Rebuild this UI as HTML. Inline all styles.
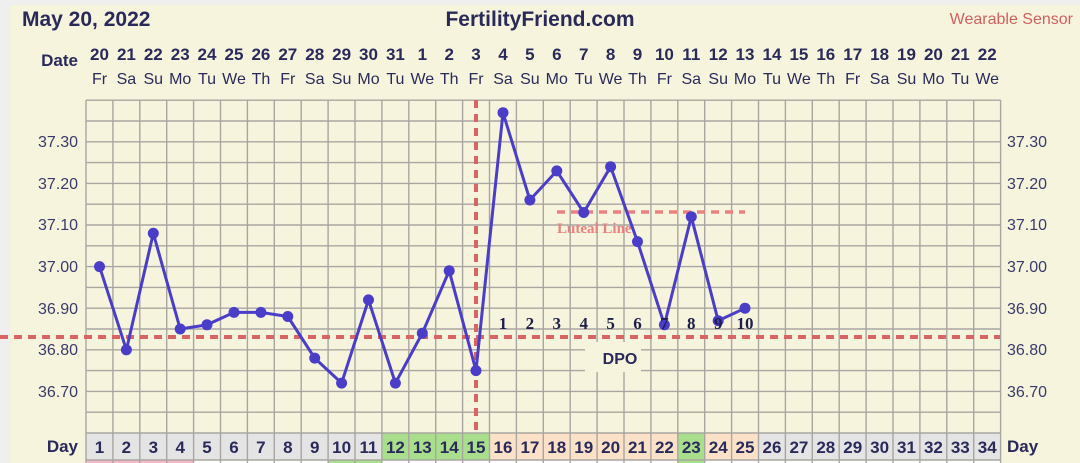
<!DOCTYPE html>
<html><head><meta charset="utf-8"><style>
body{margin:0;background:#efefef;}
svg{display:block;font-family:"Liberation Sans",sans-serif;}
</style></head><body>
<svg width="1080" height="463" viewBox="0 0 1080 463">
<rect x="10" y="5" width="1070" height="458" fill="#f7f4de"/>
<text x="22" y="26" font-size="21" font-weight="bold" fill="#2a2a5a">May 20, 2022</text>
<text x="540" y="26" font-size="21" font-weight="bold" fill="#2a2a5a" text-anchor="middle">FertilityFriend.com</text>
<text x="1073" y="24" font-size="16" fill="#d06060" text-anchor="end">Wearable Sensor</text>
<text x="78" y="66" font-size="17" font-weight="bold" fill="#2a2a5a" text-anchor="end">Date</text>
<g font-size="17" font-weight="bold" fill="#2a2a5a" text-anchor="middle">
<text x="99.5" y="60">20</text><text x="126.4" y="60">21</text><text x="153.3" y="60">22</text><text x="180.2" y="60">23</text><text x="207" y="60">24</text><text x="234" y="60">25</text><text x="260.9" y="60">26</text><text x="287.8" y="60">27</text><text x="314.7" y="60">28</text><text x="341.6" y="60">29</text><text x="368.5" y="60">30</text><text x="395.4" y="60">31</text><text x="422.3" y="60">1</text><text x="449.2" y="60">2</text><text x="476" y="60">3</text><text x="503" y="60">4</text><text x="529.9" y="60">5</text><text x="556.8" y="60">6</text><text x="583.7" y="60">7</text><text x="610.6" y="60">8</text><text x="637.5" y="60">9</text><text x="664.4" y="60">10</text><text x="691.3" y="60">11</text><text x="718.2" y="60">12</text><text x="745" y="60">13</text><text x="772" y="60">14</text><text x="798.9" y="60">15</text><text x="825.8" y="60">16</text><text x="852.7" y="60">17</text><text x="879.6" y="60">18</text><text x="906.5" y="60">19</text><text x="933.4" y="60">20</text><text x="960.3" y="60">21</text><text x="987.2" y="60">22</text>
</g>
<g font-size="16" fill="#2a2a5a" text-anchor="middle">
<text x="99.5" y="84">Fr</text><text x="126.4" y="84">Sa</text><text x="153.3" y="84">Su</text><text x="180.2" y="84">Mo</text><text x="207" y="84">Tu</text><text x="234" y="84">We</text><text x="260.9" y="84">Th</text><text x="287.8" y="84">Fr</text><text x="314.7" y="84">Sa</text><text x="341.6" y="84">Su</text><text x="368.5" y="84">Mo</text><text x="395.4" y="84">Tu</text><text x="422.3" y="84">We</text><text x="449.2" y="84">Th</text><text x="476" y="84">Fr</text><text x="503" y="84">Sa</text><text x="529.9" y="84">Su</text><text x="556.8" y="84">Mo</text><text x="583.7" y="84">Tu</text><text x="610.6" y="84">We</text><text x="637.5" y="84">Th</text><text x="664.4" y="84">Fr</text><text x="691.3" y="84">Sa</text><text x="718.2" y="84">Su</text><text x="745" y="84">Mo</text><text x="772" y="84">Tu</text><text x="798.9" y="84">We</text><text x="825.8" y="84">Th</text><text x="852.7" y="84">Fr</text><text x="879.6" y="84">Sa</text><text x="906.5" y="84">Su</text><text x="933.4" y="84">Mo</text><text x="960.3" y="84">Tu</text><text x="987.2" y="84">We</text>
</g>
<g stroke="#a8a6a0" stroke-width="1.4">
<path d="M86 100.2H1000.6M86 121H1000.6M86 141.8H1000.6M86 162.6H1000.6M86 183.4H1000.6M86 204.2H1000.6M86 225H1000.6M86 245.8H1000.6M86 266.6H1000.6M86 287.4H1000.6M86 308.2H1000.6M86 329H1000.6M86 349.8H1000.6M86 370.6H1000.6M86 391.4H1000.6M86 412.2H1000.6"/>
<path d="M86 100V433M112.9 100V433M139.8 100V433M166.7 100V433M193.6 100V433M220.5 100V433M247.4 100V433M274.3 100V433M301.2 100V433M328.1 100V433M355 100V433M381.9 100V433M408.8 100V433M435.7 100V433M462.6 100V433M489.5 100V433M516.4 100V433M543.3 100V433M570.2 100V433M597.1 100V433M624 100V433M650.9 100V433M677.8 100V433M704.7 100V433M731.6 100V433M758.5 100V433M785.4 100V433M812.3 100V433M839.2 100V433M866.1 100V433M893 100V433M919.9 100V433M946.8 100V433M973.7 100V433M1000.6 100V433"/>
</g>
<rect x="86" y="433" width="914.6" height="27" fill="#e4e4e4"/>
<rect x="381.9" y="433" width="107.6" height="27" fill="#a9df8c"/>
<rect x="489.5" y="433" width="188.3" height="27" fill="#fbe1c8"/>
<rect x="677.8" y="433" width="26.9" height="27" fill="#a9df8c"/>
<rect x="704.7" y="433" width="53.8" height="27" fill="#fbe1c8"/>
<rect x="86" y="460" width="914.6" height="3" fill="#ffffff"/>
<rect x="86" y="460" width="107.6" height="3" fill="#f4b8c8"/>
<rect x="328.1" y="460" width="53.8" height="3" fill="#a9df8c"/>
<rect x="677.8" y="460" width="26.9" height="3" fill="#a9df8c"/>
<g stroke="#a8a6a0" stroke-width="1.4">
<path d="M86 433H1000.6M86 460H1000.6M86 433V463M112.9 433V463M139.8 433V463M166.7 433V463M193.6 433V463M220.5 433V463M247.4 433V463M274.3 433V463M301.2 433V463M328.1 433V463M355 433V463M381.9 433V463M408.8 433V463M435.7 433V463M462.6 433V463M489.5 433V463M516.4 433V463M543.3 433V463M570.2 433V463M597.1 433V463M624 433V463M650.9 433V463M677.8 433V463M704.7 433V463M731.6 433V463M758.5 433V463M785.4 433V463M812.3 433V463M839.2 433V463M866.1 433V463M893 433V463M919.9 433V463M946.8 433V463M973.7 433V463M1000.6 433V463"/>
</g>
<text x="78" y="452" font-size="17" font-weight="bold" fill="#2a2a5a" text-anchor="end">Day</text>
<text x="1007" y="452" font-size="17" font-weight="bold" fill="#2a2a5a">Day</text>
<g font-size="17" font-weight="bold" fill="#2a2a5a" text-anchor="middle">
<text x="99.5" y="453">1</text><text x="126.4" y="453">2</text><text x="153.3" y="453">3</text><text x="180.2" y="453">4</text><text x="207" y="453">5</text><text x="234" y="453">6</text><text x="260.9" y="453">7</text><text x="287.8" y="453">8</text><text x="314.7" y="453">9</text><text x="341.6" y="453">10</text><text x="368.5" y="453">11</text><text x="395.4" y="453">12</text><text x="422.3" y="453">13</text><text x="449.2" y="453">14</text><text x="476" y="453">15</text><text x="503" y="453">16</text><text x="529.9" y="453">17</text><text x="556.8" y="453">18</text><text x="583.7" y="453">19</text><text x="610.6" y="453">20</text><text x="637.5" y="453">21</text><text x="664.4" y="453">22</text><text x="691.3" y="453">23</text><text x="718.2" y="453">24</text><text x="745" y="453">25</text><text x="772" y="453">26</text><text x="798.9" y="453">27</text><text x="825.8" y="453">28</text><text x="852.7" y="453">29</text><text x="879.6" y="453">30</text><text x="906.5" y="453">31</text><text x="933.4" y="453">32</text><text x="960.3" y="453">33</text><text x="987.2" y="453">34</text>
</g>
<g font-size="16" fill="#3a3a6a">
<g text-anchor="end">
<text x="78" y="147">37.30</text><text x="78" y="189">37.20</text><text x="78" y="230">37.10</text><text x="78" y="272">37.00</text><text x="78" y="314">36.90</text><text x="78" y="355">36.80</text><text x="78" y="397">36.70</text>
</g>
<text x="1007" y="147">37.30</text><text x="1007" y="189">37.20</text><text x="1007" y="230">37.10</text><text x="1007" y="272">37.00</text><text x="1007" y="314">36.90</text><text x="1007" y="355">36.80</text><text x="1007" y="397">36.70</text>
</g>
<rect x="585" y="342" width="56" height="30" fill="#f7f4de"/>
<text x="620" y="364" font-size="16" font-weight="bold" fill="#2a2a5a" text-anchor="middle">DPO</text>
<path d="M0 337H1000" stroke="#d86464" stroke-width="4" stroke-dasharray="8,6"/>
<path d="M476 100V433" stroke="#d86464" stroke-width="4" stroke-dasharray="8,6"/>
<path d="M557 212H745" stroke="#ec8080" stroke-width="3.5" stroke-dasharray="8,6"/>
<text x="557" y="233" font-size="15" font-weight="bold" fill="#ec8080" font-family="Liberation Serif,serif">Luteal Line</text>
<polyline fill="none" stroke="#4a3ec8" stroke-width="3" points="99.5,266.6 126.4,349.8 153.3,233.3 180.2,329 207,324.8 234,312.4 260.9,312.4 287.8,316.5 314.7,358.1 341.6,383.1 368.5,299.9 395.4,383.1 422.3,333.2 449.2,270.8 476,370.6 503,112.7 529.9,200 556.8,170.9 583.7,212.5 610.6,166.8 637.5,241.6 664.4,324.8 691.3,216.7 718.2,320.7 745,308.2"/>
<g fill="#4a3ec8">
<circle cx="99.5" cy="266.6" r="5.5"/><circle cx="126.4" cy="349.8" r="5.5"/><circle cx="153.3" cy="233.3" r="5.5"/><circle cx="180.2" cy="329" r="5.5"/><circle cx="207" cy="324.8" r="5.5"/><circle cx="234" cy="312.4" r="5.5"/><circle cx="260.9" cy="312.4" r="5.5"/><circle cx="287.8" cy="316.5" r="5.5"/><circle cx="314.7" cy="358.1" r="5.5"/><circle cx="341.6" cy="383.1" r="5.5"/><circle cx="368.5" cy="299.9" r="5.5"/><circle cx="395.4" cy="383.1" r="5.5"/><circle cx="422.3" cy="333.2" r="5.5"/><circle cx="449.2" cy="270.8" r="5.5"/><circle cx="476" cy="370.6" r="5.5"/><circle cx="503" cy="112.7" r="5.5"/><circle cx="529.9" cy="200" r="5.5"/><circle cx="556.8" cy="170.9" r="5.5"/><circle cx="583.7" cy="212.5" r="5.5"/><circle cx="610.6" cy="166.8" r="5.5"/><circle cx="637.5" cy="241.6" r="5.5"/><circle cx="664.4" cy="324.8" r="5.5"/><circle cx="691.3" cy="216.7" r="5.5"/><circle cx="718.2" cy="320.7" r="5.5"/><circle cx="745" cy="308.2" r="5.5"/>
</g>
<g font-size="17" font-weight="bold" fill="#1e1e4a" text-anchor="middle" font-family="Liberation Serif,serif">
<text x="503" y="329">1</text><text x="529.9" y="329">2</text><text x="556.8" y="329">3</text><text x="583.7" y="329">4</text><text x="610.6" y="329">5</text><text x="637.5" y="329">6</text><text x="664.4" y="329">7</text><text x="691.3" y="329">8</text><text x="718.2" y="329">9</text><text x="745" y="329">10</text>
</g>
</svg>
</body></html>
